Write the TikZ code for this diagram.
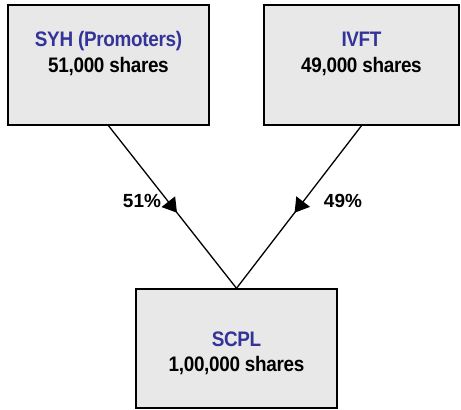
\documentclass[tikz,border=0pt]{standalone}
\usepackage{fontspec}
\setmainfont{Liberation Sans}
\newfontfamily\boxfont[FakeStretch=0.9,LetterSpace=-1.5]{Liberation Sans}
\usetikzlibrary{arrows.meta,decorations.markings}
\definecolor{boxfill}{HTML}{E8E8E8}
\definecolor{titleblue}{HTML}{333399}
\tikzset{
  box/.style={draw=black,line width=1.4pt,fill=boxfill,rectangle,inner sep=0pt},
  boxtext/.style={anchor=base,font=\boxfont\fontsize{21}{26}\selectfont\bfseries,inner sep=0pt},
  titletext/.style={boxtext,text=titleblue},
  pct/.style={anchor=base,font=\fontsize{19}{22}\selectfont\bfseries,inner sep=0pt},
  link/.style={line width=1.3pt,postaction={decorate},
    decoration={markings,mark=at position 0.535 with {\arrow{Triangle[length=14pt,width=17pt]}}}}
}
\begin{document}
\begin{tikzpicture}[x=1pt,y=-1pt]
\useasboundingbox (0,0) rectangle (461,410);
\node[box,minimum width=201pt,minimum height=120pt] (L) at (108.5,65) {};
\node[box,minimum width=195pt,minimum height=120pt] (R) at (361.5,65) {};
\node[box,minimum width=201pt,minimum height=119pt] (B) at (236.5,348.5) {};
\node[titletext] (Lt1) at (108.5,46.5) {SYH (Promoters)};
\node[boxtext] (Lt2) at (108.5,72.5) {51,000 shares};
\node[titletext] (Rt1) at (361.5,46.5) {IVFT};
\node[boxtext] (Rt2) at (361.5,72.5) {49,000 shares};
\node[titletext] (Bt1) at (236.5,346) {SCPL};
\node[boxtext] (Bt2) at (236.5,371.5) {1,00,000 shares};
\draw[link] (L.south) -- (B.north);
\draw[link] (R.south) -- (B.north);
\node[pct] (p51) at (142,207) {51\%};
\node[pct] (p49) at (343,207) {49\%};
\end{tikzpicture}
\end{document}
